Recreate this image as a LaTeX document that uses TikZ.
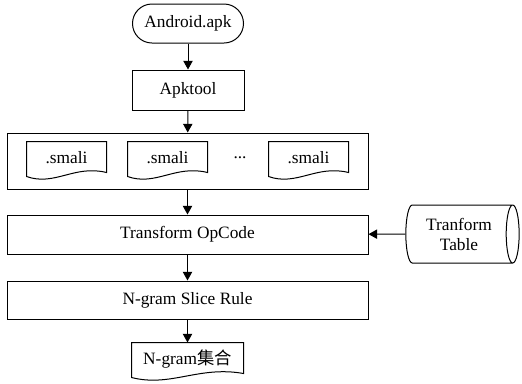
\documentclass[tikz,border=0pt]{standalone}
\usepackage{fontspec}
\setmainfont{Liberation Serif}
\newfontfamily\cjk{Noto Sans CJK SC}
\usepackage{tikz}
\usetikzlibrary{positioning,calc,shapes.geometric,arrows.meta}
\tikzset{
  basic/.style  = {draw, line width=0.75pt, inner sep=0pt,
                   font=\fontsize{13pt}{15pt}\selectfont, align=center},
  term/.style   = {basic, rectangle, rounded corners=14.6pt,
                   minimum width=83.25pt, minimum height=29.25pt},
  proc/.style   = {basic, rectangle, minimum height=29.25pt},
  wide/.style   = {proc, minimum width=270.75pt},
  doc/.style    = {basic, draw=none, minimum height=24pt},
  store/.style  = {basic, cylinder, shape aspect=0.4,
                   minimum width=43.5pt, minimum height=85pt},
  post/.style   = {-{Triangle[width=7pt,length=6.5pt]}, line width=0.75pt}
}
% wavy bottom of a document node
\newcommand{\docline}[1]{%
  \draw[line width=0.75pt] (#1.north west) -- ($(#1.south west)+(0,2)$)
    .. controls ($(#1.south west)!0.35!(#1.south east)+(0,12)$)
    and ($(#1.south west)!0.6!(#1.south east)+(0,-10)$)
    .. ($(#1.south east)+(0,-2)$) -- (#1.north east) -- cycle;}
\begin{document}
\begin{tikzpicture}[x=0.75pt,y=-0.75pt]
  \useasboundingbox (0,0) rectangle (522,383);
  \node[term] (apk) at (188,23.5) {Android.apk};
  \node[proc, minimum width=84pt, minimum height=30pt] (apktool) at (188,90) {Apktool};
  \node[wide, minimum height=42pt] (smali) at (187.5,161) {};
  \node[doc, minimum width=59.25pt] (s1) at (66.5,158) {.smali};
  \node[doc, minimum width=59.25pt] (s2) at (167.5,158) {.smali};
  \node[basic, draw=none] (dots) at (240,158) {...};
  \node[doc, minimum width=59.25pt] (s3) at (308.5,158) {.smali};
  \docline{s1}
  \docline{s2}
  \docline{s3}
  \node[wide] (opcode) at (187.5,234.5) {Transform OpCode};
  \node[wide, minimum height=28.5pt] (slice) at (187.5,300) {N-gram Slice Rule};
  \node[doc, minimum width=83.25pt] (ngram) at (187.5,359) {N-gram{\cjk 集合}};
  \docline{ngram}
  \node[store] (table) at (459,234) {Tranform\\Table};

  \draw[post] (apk) -- (apktool);
  \draw[post] (apktool) -- (smali);
  \draw[post] (smali) -- (opcode);
  \draw[post] (opcode) -- (slice);
  \draw[post] (slice) -- (ngram);
  \draw[post] (table) -- (opcode);
\end{tikzpicture}
\end{document}
